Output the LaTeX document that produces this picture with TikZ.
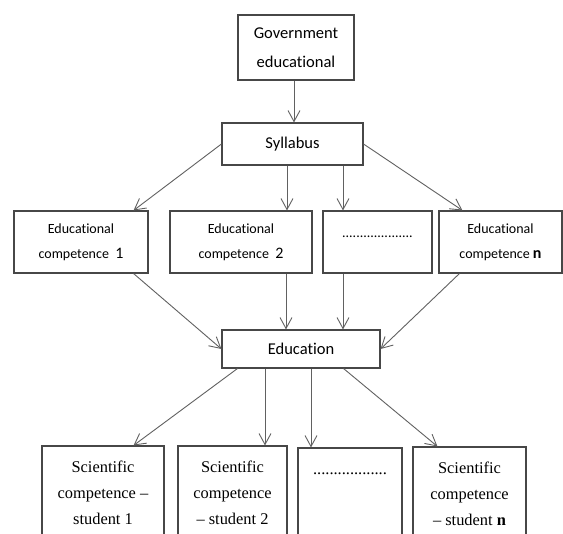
\documentclass[tikz,border=0pt]{standalone}
\usepackage{fontspec}
\setmainfont[Ligatures={NoCommon}]{Carlito}
\newfontfamily\timesf{Liberation Serif}
\usetikzlibrary{arrows.meta,calc}
\newcommand{\bigdigit}[1]{{\fontsize{16}{25}\selectfont #1}}
\begin{document}
\begin{tikzpicture}[x=1pt,y=-1pt,
 box/.style={draw=black!72,line width=1.1pt,inner sep=0pt,align=center,fill=white},
 bigtxt/.style={font=\fontsize{16.5}{29}\selectfont},
 midtxt/.style={font=\fontsize{14}{25}\selectfont},
 sertxt/.style={font=\timesf\fontsize{16.4}{26}\selectfont},
 arr/.style={draw=black!62,line width=0.9pt,-{Straight Barb[length=11pt,width=12pt,line width=0.9pt]}},
]
\useasboundingbox (0,0) rectangle (563,534);
\clip (0,0) rectangle (563,534);
\fill[white] (0,0) rectangle (563,534);

% top
\node[box,bigtxt,minimum width=116pt,minimum height=65pt] (gov) at (296,47.5) {Government\\educational};
\node[box,bigtxt,minimum width=141pt,minimum height=42pt] (syl) at (292.5,144) {Syllabus};

% row 2
\node[box,midtxt,minimum width=134pt,minimum height=62pt] (ec1) at (81,242) {Educational\\competence~~\bigdigit{1}};
\node[box,midtxt,minimum width=142pt,minimum height=62pt] (ec2) at (241,242) {Educational\\competence~~\bigdigit{2}};
\node[box,minimum width=109pt,minimum height=62pt,
  label={[midtxt,anchor=center,yshift=-26pt]north:{....................}}] (ecd) at (377.5,242) {};
\node[box,midtxt,minimum width=123pt,minimum height=62pt] (ecn) at (500.5,242) {Educational\\competence~\bigdigit{\bfseries n}};

% education
\node[box,bigtxt,minimum width=158pt,minimum height=38pt] (edu) at (301,349) {Education};

% bottom row
\node[box,sertxt,minimum width=122pt,minimum height=93pt] (sc1) at (103,492.5) {Scientific\\competence –\\student 1};
\node[box,sertxt,minimum width=109pt,minimum height=93pt] (sc2) at (232.5,492.5) {Scientific\\competence\\– student 2};
\node[box,minimum width=104pt,minimum height=93pt,
  label={[sertxt,anchor=center,yshift=-26pt]north:{..................}}] (scd) at (350,494.5) {};
\node[box,sertxt,minimum width=113pt,minimum height=93pt] (scn) at (469.5,493.5) {Scientific\\competence\\– student \textbf{n}};

% connectors
\draw[arr] (gov.south -| 294,0) -- (syl.north -| 294,0);
\draw[arr] (syl.west) -- ([xshift=-15pt]ec1.north east);
\draw[arr] (syl.south -| 287,0) -- (ec2.north -| 287,0);
\draw[arr] (syl.south -| 343,0) -- (ecd.north -| 343,0);
\draw[arr] (syl.east) -- ([xshift=24pt]ecn.north west);

\draw[arr] ([xshift=-15pt]ec1.south east) -- (edu.west);
\draw[arr] (ec2.south -| 286,0) -- (edu.north -| 286,0);
\draw[arr] (ecd.south -| 343,0) -- (edu.north -| 343,0);
\draw[arr] ([xshift=21pt]ecn.south west) -- (edu.east);

\draw[arr] ([xshift=16pt]edu.south west) -- ([xshift=-31pt]sc1.north east);
\draw[arr] (edu.south -| 265,0) -- (sc2.north -| 265,0);
\draw[arr] (edu.south -| 311,0) -- (scd.north -| 311,0);
\draw[arr] ([xshift=-37pt]edu.south east) -- ([xshift=25pt]scn.north west);
\end{tikzpicture}
\end{document}
